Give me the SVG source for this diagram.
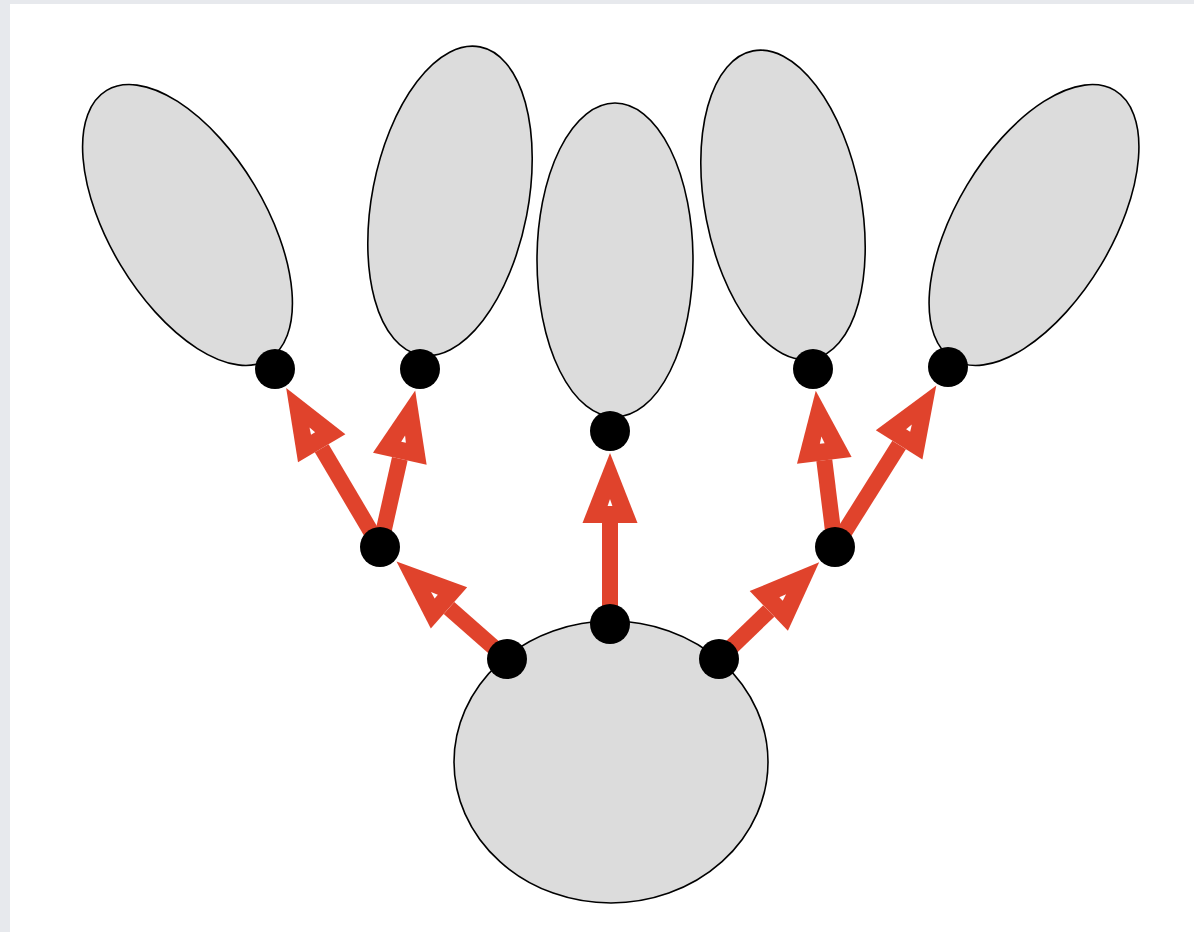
<svg xmlns="http://www.w3.org/2000/svg" xmlns:xlink="http://www.w3.org/1999/xlink" width="1194" height="932" viewBox="0 0 1194 932">
<style>
.blob{fill:#dcdcdc;stroke:#000;stroke-width:1.6}
.dot{fill:#000}
.arr{stroke:#e0432c;stroke-width:16;fill:none}
.head{fill:#e0432c}
.hole{fill:#ffffff}
</style>
<defs>
<g id="ah">
<path class="head" d="M0,-27.5 L70,0 L0,27.5 Z"/>
<path class="hole" d="M17,-2.4 L24,0 L17,2.4 Z"/>
</g>
</defs>
<rect x="0" y="0" width="1194" height="932" fill="#e7e9ed"/>
<rect x="10" y="4" width="1184" height="928" fill="#fff"/>
<g id="root"><ellipse class="blob" cx="611" cy="762" rx="157" ry="141"/></g>
<g id="leaf1"><ellipse class="blob" cx="187.5" cy="225" rx="78" ry="157" transform="rotate(-31 187.5 225)"/></g>
<g id="leaf2"><ellipse class="blob" cx="450" cy="201" rx="78" ry="157" transform="rotate(11 450 201)"/></g>
<g id="leaf3"><ellipse class="blob" cx="615" cy="260" rx="78" ry="157"/></g>
<g id="leaf4"><ellipse class="blob" cx="783" cy="205" rx="78" ry="157" transform="rotate(-11 783 205)"/></g>
<g id="leaf5"><ellipse class="blob" cx="1034" cy="225" rx="78" ry="157" transform="rotate(31 1034 225)"/></g>
<g id="connectors">
<path class="arr" d="M507,659 L449,607.9"/>
<use xlink:href="#ah" href="#ah" transform="translate(449,607.9) rotate(-138.6)"/>
<path class="arr" d="M610,624 L610,523"/>
<use xlink:href="#ah" href="#ah" transform="translate(610,523) rotate(-90)"/>
<path class="arr" d="M719,659 L768.8,610.9"/>
<use xlink:href="#ah" href="#ah" transform="translate(768.8,610.9) rotate(-44)"/>
<path class="arr" d="M380,547 L321.7,448.2"/>
<use xlink:href="#ah" href="#ah" transform="translate(321.7,448.2) rotate(-120.5)"/>
<path class="arr" d="M380,547 L399.8,458.8"/>
<use xlink:href="#ah" href="#ah" transform="translate(399.8,458.8) rotate(-77.3)"/>
<path class="arr" d="M835,547 L824.3,460.3"/>
<use xlink:href="#ah" href="#ah" transform="translate(824.3,460.3) rotate(-97)"/>
<path class="arr" d="M835,547 L899.1,444.9"/>
<use xlink:href="#ah" href="#ah" transform="translate(899.1,444.9) rotate(-57.9)"/>
</g>
<g id="dots">
<circle class="dot" cx="275" cy="369" r="20"/>
<circle class="dot" cx="420" cy="369" r="20"/>
<circle class="dot" cx="610" cy="431" r="20"/>
<circle class="dot" cx="813" cy="369" r="20"/>
<circle class="dot" cx="948" cy="367" r="20"/>
<circle class="dot" cx="380" cy="547" r="20"/>
<circle class="dot" cx="835" cy="547" r="20"/>
<circle class="dot" cx="507" cy="659" r="20"/>
<circle class="dot" cx="610" cy="624" r="20"/>
<circle class="dot" cx="719" cy="659" r="20"/>
</g>
</svg>
